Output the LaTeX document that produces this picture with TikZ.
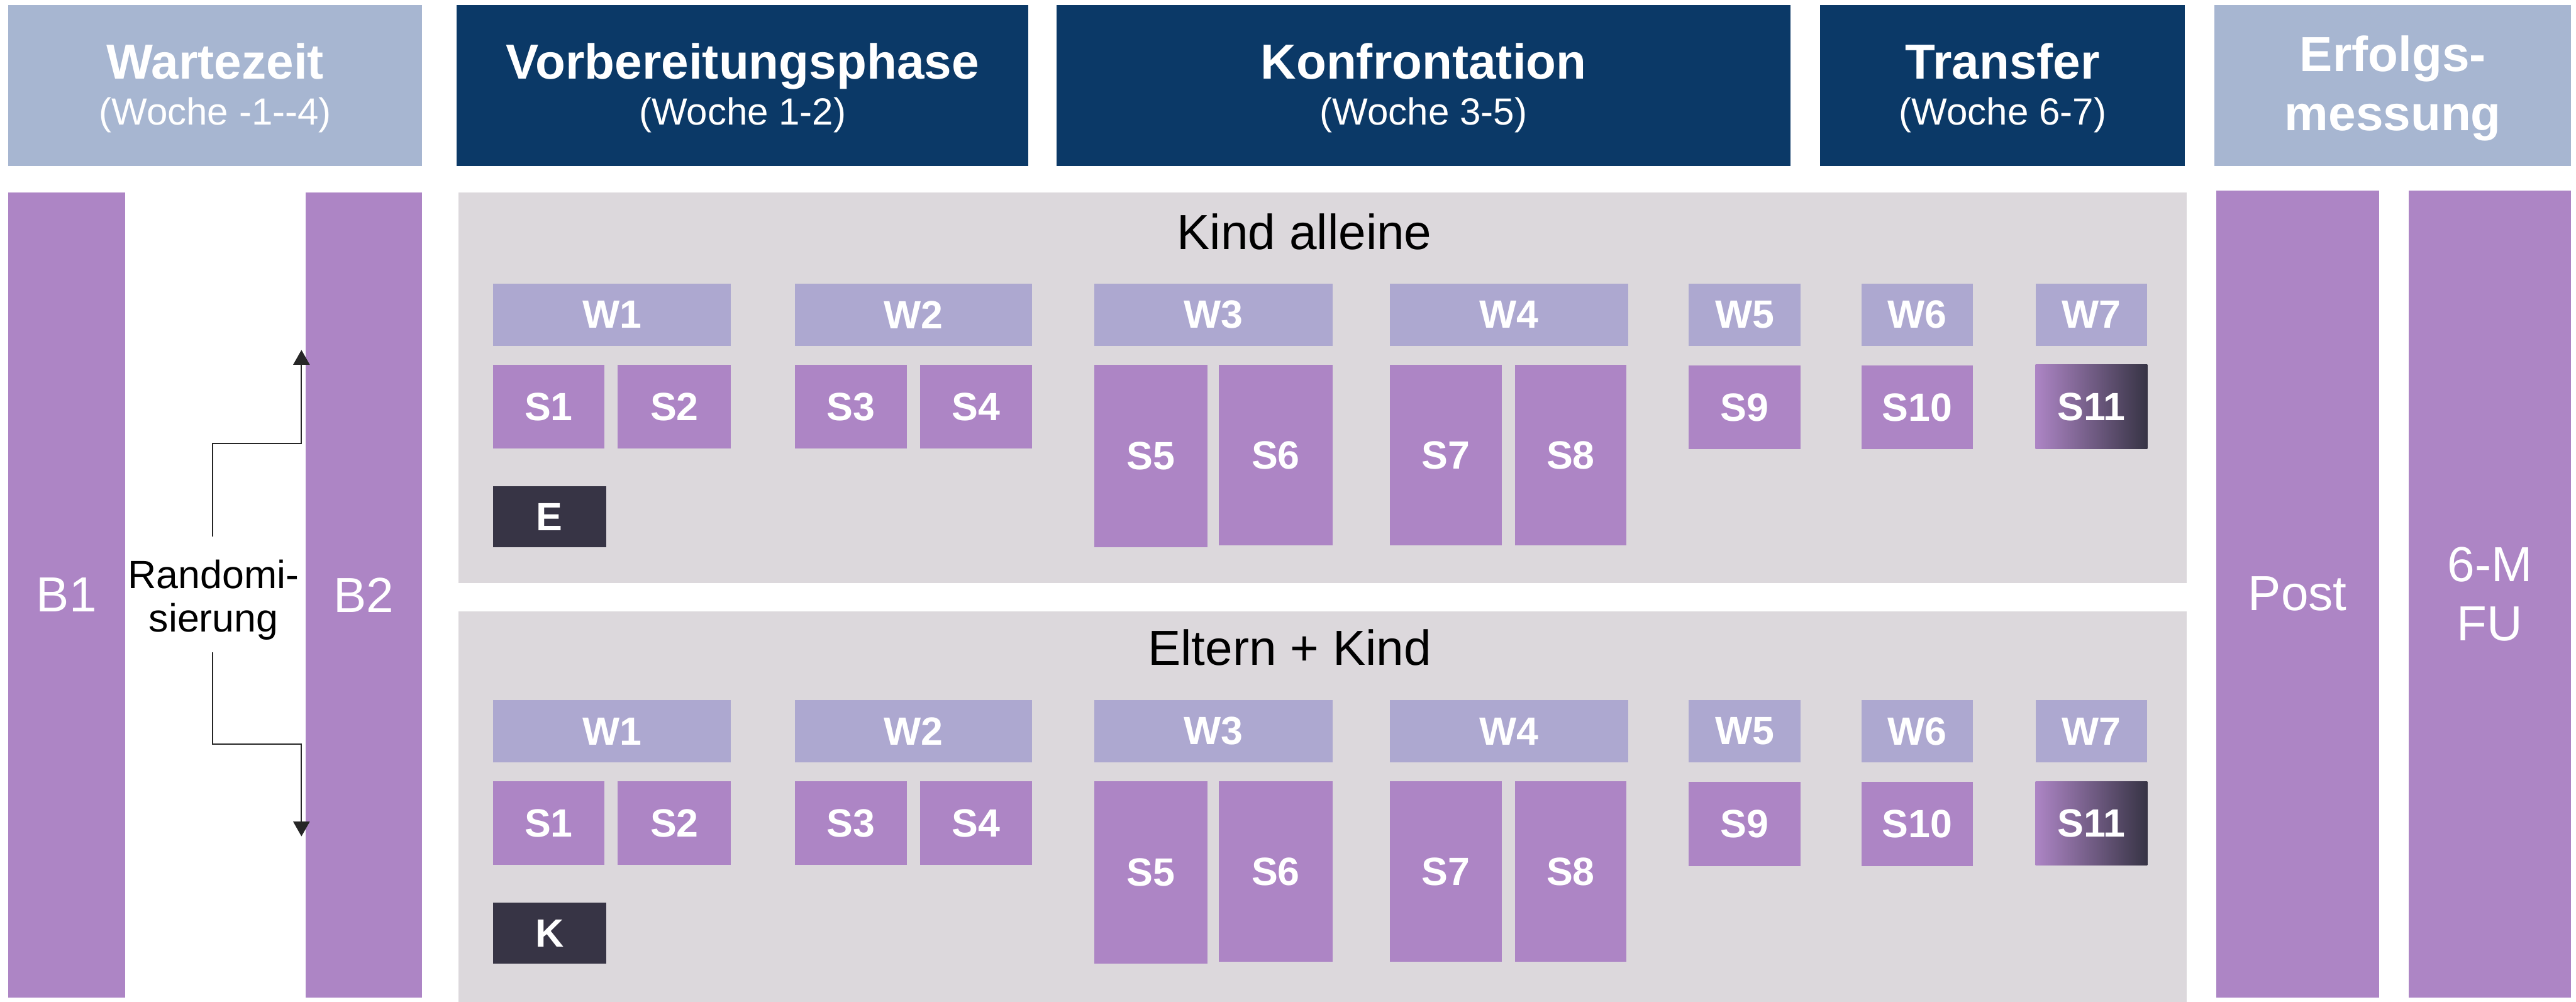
\documentclass[tikz,border=0pt]{standalone}
\usepackage{fontspec}
\setmainfont{Liberation Sans}
\usetikzlibrary{arrows.meta}
\definecolor{hdrlight}{HTML}{A7B6D1}
\definecolor{hdrdark}{HTML}{0B3967}
\definecolor{purp}{HTML}{AD85C5}
\definecolor{wcol}{HTML}{ADA8D0}
\definecolor{panelcol}{HTML}{DCD8DC}
\definecolor{darkbox}{HTML}{373445}
\newcommand\rbox[7]{\node[#1, minimum width={(#5)-(#3)}, minimum height={(#6)-(#4)}] (#2) at ({((#3)+(#5))/2},{((#4)+(#6))/2}) {#7};}
\newcommand\panelrow[3]{%
\rbox{wbox}{#1w1}{300}{172.5+#2}{445}{210.5+#2}{W1}
\rbox{wbox}{#1w2}{484}{172.5+#2}{628}{210.5+#2}{W2}
\rbox{wbox}{#1w3}{666}{172.5+#2}{811}{210.5+#2}{W3}
\rbox{wbox}{#1w4}{846}{172.5+#2}{991}{210.5+#2}{W4}
\rbox{wbox}{#1w5}{1028}{172.5+#2}{1096}{210.5+#2}{W5}
\rbox{wbox}{#1w6}{1133}{172.5+#2}{1201}{210.5+#2}{W6}
\rbox{wbox}{#1w7}{1239}{172.5+#2}{1307}{210.5+#2}{W7}
\rbox{sbox}{#1s1}{300}{222+#2}{368}{273+#2}{S1}
\rbox{sbox}{#1s2}{376}{222+#2}{445}{273+#2}{S2}
\rbox{sbox}{#1s3}{484}{222+#2}{552}{273+#2}{S3}
\rbox{sbox}{#1s4}{560}{222+#2}{628}{273+#2}{S4}
\rbox{sbox}{#1s5}{666}{222+#2}{735}{333+#2}{S5}
\rbox{sbox}{#1s6}{742}{222+#2}{811}{332+#2}{S6}
\rbox{sbox}{#1s7}{846}{222+#2}{914}{332+#2}{S7}
\rbox{sbox}{#1s8}{922}{222+#2}{990}{332+#2}{S8}
\rbox{sbox}{#1s9}{1028}{222.5+#2}{1096}{273.5+#2}{S9}
\rbox{sbox}{#1s10}{1133}{222.5+#2}{1201}{273.5+#2}{S10}
\rbox{sgrad}{#1s11}{1239}{222+#2}{1307}{273+#2}{S11}
\rbox{ebox}{#1e}{300}{296+#2}{369}{333+#2}{#3}
}
\begin{document}
\begin{tikzpicture}[x=1pt,y=-1pt,
  box/.style={draw=none, inner sep=0pt, outer sep=0pt, text=white},
  wbox/.style={box, fill=wcol, font=\fontsize{24}{28}\selectfont\bfseries},
  sbox/.style={box, fill=purp, font=\fontsize{24}{28}\selectfont\bfseries},
  sgrad/.style={box, left color=purp, middle color=purp!70!darkbox, right color=darkbox, font=\fontsize{24}{28}\selectfont\bfseries},
  ebox/.style={box, fill=darkbox, font=\fontsize{24}{28}\selectfont\bfseries},
  bar/.style={box, fill=purp, font=\fontsize{30}{36}\selectfont, align=center},
  hlight/.style={box, fill=hdrlight},
  hdark/.style={box, fill=hdrdark},
  panelbox/.style={box, fill=panelcol},
  htitle/.style={text=white, font=\fontsize{30}{36}\selectfont\bfseries, inner sep=0pt, anchor=base},
  hsub/.style={text=white, font=\fontsize{23}{27}\selectfont, inner sep=0pt, anchor=base},
  plabel/.style={text=black, font=\fontsize{30}{36}\selectfont, inner sep=0pt, anchor=base},
  rlabel/.style={text=black, font=\fontsize{24}{28}\selectfont, inner sep=0pt, anchor=base},
  conn/.style={draw=black!85, line width=0.8pt, -{Triangle[width=10pt,length=9pt]}}]
\useasboundingbox[fill=white] (0,0) rectangle (1568,609.75);
% headers
\rbox{hlight}{h1}{5}{3}{257}{101}{}
\rbox{hdark}{h2}{278}{3}{626}{101}{}
\rbox{hdark}{h3}{643}{3}{1090}{101}{}
\rbox{hdark}{h4}{1108}{3}{1330}{101}{}
\rbox{hlight}{h5}{1348}{3}{1565}{101}{}
\node[htitle] (h1t) at (h1.center |- 0,47.9) {Wartezeit};
\node[hsub] (h1s) at (h1.center |- 0,75.9) {(Woche {-}1{-}{-}4)};
\node[htitle] (h2t) at (h2.center |- 0,47.9) {Vorbereitungsphase};
\node[hsub] (h2s) at (h2.center |- 0,75.9) {(Woche 1-2)};
\node[htitle] (h3t) at (h3.center |- 0,47.9) {Konfrontation};
\node[hsub] (h3s) at (h3.center |- 0,75.9) {(Woche 3-5)};
\node[htitle] (h4t) at (h4.center |- 0,47.9) {Transfer};
\node[hsub] (h4s) at (h4.center |- 0,75.9) {(Woche 6-7)};
\node[htitle] (h5t) at (h5.center |- 0,43.4) {Erfolgs-};
\node[htitle] (h5s) at (h5.center |- 0,79.6) {messung};
% bars
\rbox{bar}{b1}{5}{117}{76}{607}{B1}
\rbox{bar}{b2}{186}{117}{257}{607}{B2}
\rbox{bar}{post}{1349}{116}{1448}{607}{Post}
\rbox{bar}{fu}{1466}{116}{1565}{607}{6-M\\FU}
% panels
\rbox{panelbox}{pa}{279}{117}{1331}{355}{}
\rbox{panelbox}{pb}{279}{372}{1331}{609.75}{}
\node[plabel] (pat) at (794,151.75) {Kind alleine};
\node[plabel] (pbt) at (785,404.75) {Eltern + Kind};
\panelrow{a}{0}{E}
\panelrow{b}{253.5}{K}
% randomisation
\node[rlabel] (rand1) at (130,358) {Randomi-};
\node[rlabel] (rand2) at (130,384.5) {sierung};
\coordinate (rtop) at (129.5,326.5);
\coordinate (rbot) at (129.5,397);
\coordinate (tipA) at (183.5,213);
\coordinate (tipB) at (183.5,509);
\draw[conn] (rtop) -- ++(0,-56.5) -| (tipA);
\draw[conn] (rbot) -- ++(0,56) -| (tipB);
\end{tikzpicture}
\end{document}
